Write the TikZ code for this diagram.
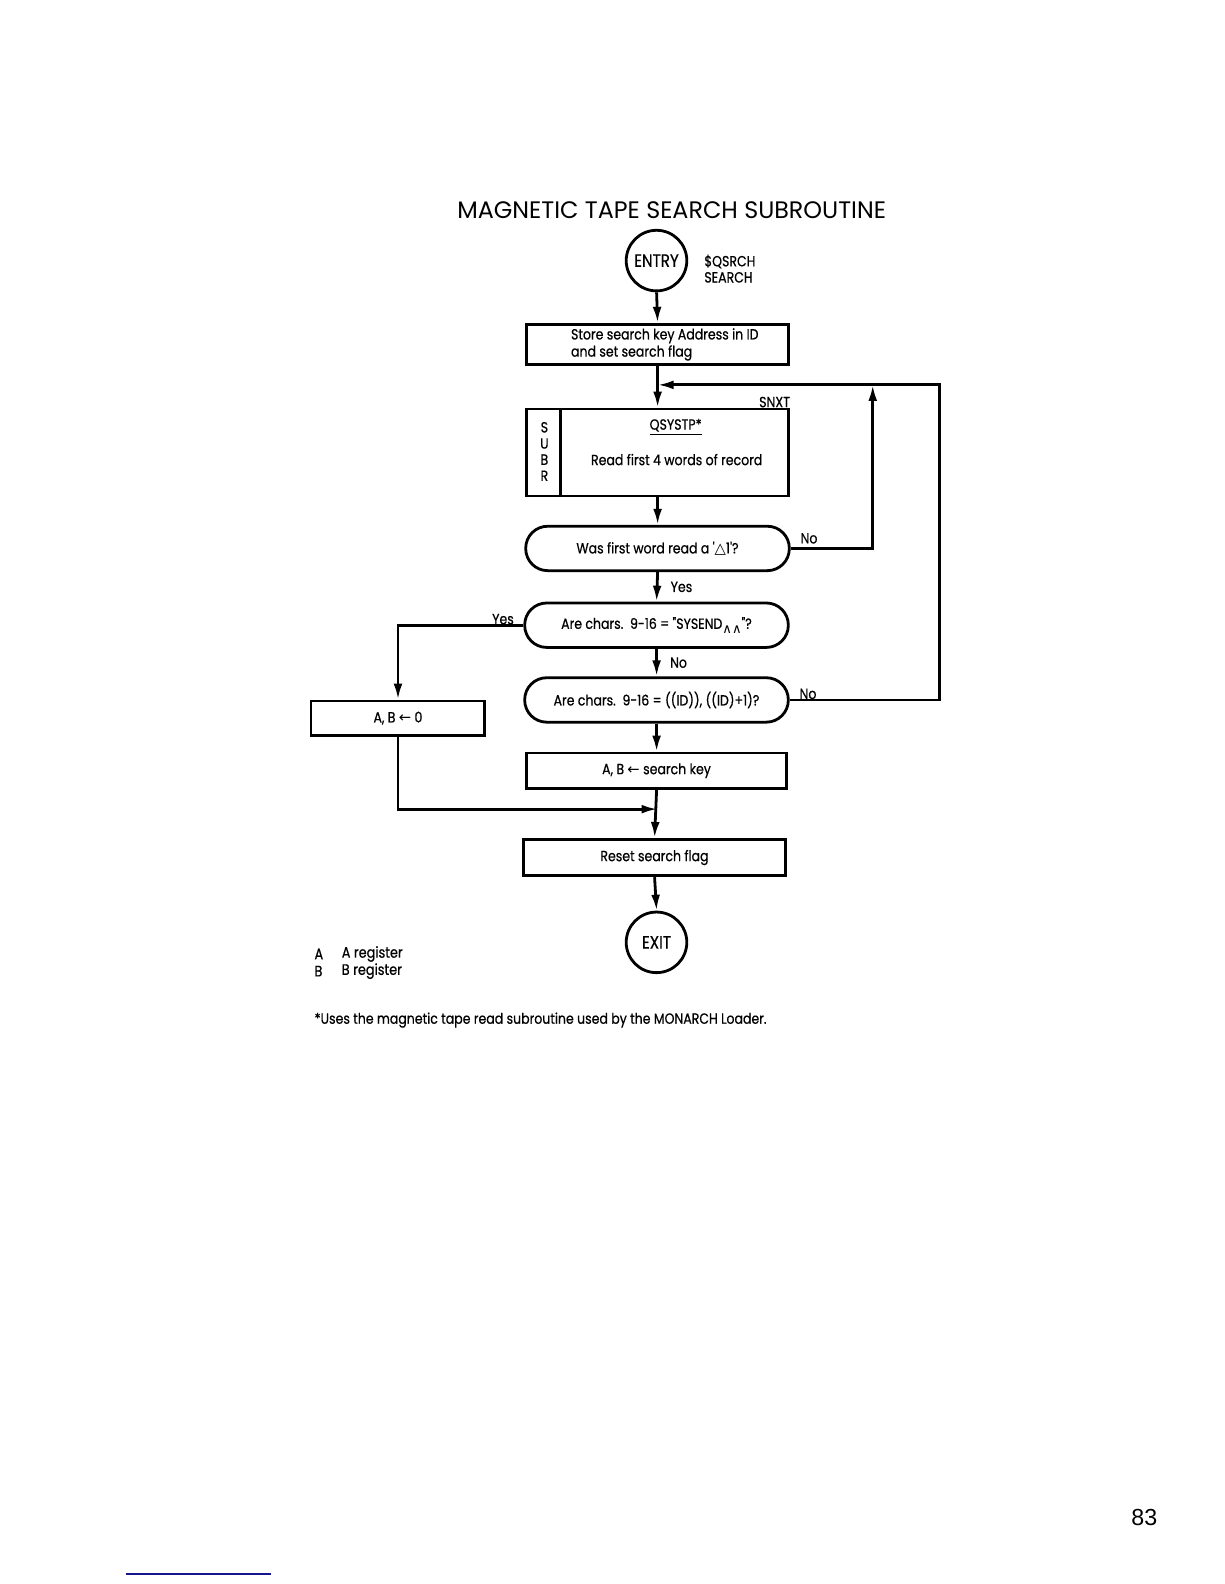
\documentclass[tikz,border=0pt]{standalone}
\usepackage{fontspec}
\setmainfont{Poppins}[FakeStretch=0.85, FakeBold=0.6]
\newfontfamily\titlefont{Poppins}
\newfontfamily\quotefont{Poppins}[FakeStretch=0.85, FakeBold=0.6, Ligatures=TeXOff]
\newfontfamily\symfont{DejaVu Sans}
\newfontfamily\pagefont{Liberation Sans}
\usetikzlibrary{arrows.meta}
\usetikzlibrary{calc}
\definecolor{rulenavy}{RGB}{20,20,140}
\newcommand{\dq}{{\quotefont "}}
\newcommand{\sq}{{\quotefont '}}

\begin{document}
\begin{tikzpicture}[x=0.5pt, y=-0.5pt, scale=1.01,
	every node/.style={font=\fontsize{7.3}{8}\selectfont, transform shape},
	box/.style={draw, line width=1.4pt, minimum width=130pt, minimum height=20pt, inner sep=0pt},
	ask/.style={draw, line width=1.4pt, rounded corners=11pt, minimum width=130.5pt, minimum height=22pt, inner sep=0pt},
	term/.style={draw, circle, line width=1.4pt, minimum size=30pt, inner sep=0pt, font=\fontsize{8.8}{9}\selectfont},
	flow/.style={line width=1.4pt, -{Latex[length=8pt,width=4.4pt]}},
	lbl/.style={inner sep=0pt}]
	\useasboundingbox (0,0) rectangle (1211.9,1568.3);

	\node[lbl, font=\titlefont\fontsize{11.8}{14}\selectfont] (title) at (665,208) {MAGNETIC TAPE SEARCH SUBROUTINE};

	% entry
	\node[term] (entry) at (650,258) {ENTRY};
	\node[lbl, anchor=west, align=left] (entryname) at (697,266) {\$QSRCH\\SEARCH};

	\node[box] (store) at (651,341) {};
	\node[lbl, anchor=west, align=left, font=\fontsize{7.3}{8.5}\selectfont] (storetext) at (565,341) {Store search key Address in ID\\and set search flag};

	% subroutine box
	\node[box, minimum height=43pt] (subr) at (651,448) {};
	\draw[line width=1.4pt] ($(subr.north west)+(35,0)$) -- ($(subr.south west)+(35,0)$);
	\node[lbl, align=center] (subrtag) at (539,447) {S\\U\\B\\R};
	\node[lbl] (qsys) at (669,423) {\underline{QSYSTP*}};
	\node[lbl] (readtext) at (670,455) {Read first 4 words of record};
	\node[lbl, anchor=south east] (snxt) at (subr.north east) {SNXT};

	% decisions
	\node[ask] (firstq) at (651,543) {Was first word read a \sq{\symfont △}1\sq?};
	\node[ask] (sysendq) at (650,619) {Are chars.\ \ 9-16 = \dq SYSEND\raisebox{-2.2pt}{\symfont\fontsize{6.5}{7}\selectfont ∧∧}\dq?};
	\node[ask] (idq) at (650,693) {Are chars.\ \ 9-16 = ((ID)), ((ID)+1)?};

	\node[box, minimum width=86pt, minimum height=17pt] (abzero) at (394,711) {A, B {\symfont ←} 0};
	\node[box, minimum width=129pt, minimum height=17.5pt] (abkey) at (650,763) {A, B {\symfont ←} search key};
	\node[box, minimum width=129.5pt, minimum height=18pt] (reset) at (648,849) {Reset search flag};

	\node[term] (exit) at (650,933) {EXIT};

	% connectors
	\coordinate (jn) at (651,381);
	\coordinate (rise) at (864,381);
	\coordinate (outer) at (930,381);
	\coordinate (merge) at (651,801);

	\draw[flow] (entry.south) -- (store.north);
	\draw[flow] (store.south) -- (subr.north);
	\draw[flow] (subr.south) -- (firstq.north);
	\draw[flow] (firstq.south) -- (sysendq.north) node[lbl, midway, right=6pt] {Yes};
	\draw[flow] (sysendq.south) -- (idq.north) node[lbl, midway, right=6pt] {No};
	\draw[flow] (idq.south) -- (abkey.north);
	\draw[flow] (firstq.east) -| (rise);
	\draw[flow] (idq.east) -| (outer) -- (jn);
	\draw[flow] (sysendq.west) -| (abzero.north);
	\draw[flow] (abzero.south) |- (merge);
	\draw[flow] (abkey.south) -- (reset.north);
	\draw[flow] (reset.south) -- (exit.north);

	\node[lbl] (firstno) at (801,533) {No};
	\node[lbl] (sysyes) at (498,613) {Yes};
	\node[lbl] (idno) at (800,687) {No};

	% legend and note
	\node[lbl, anchor=west, align=left, font=\fontsize{7.5}{8.5}\selectfont] (legkey) at (311,953) {A\\B};
	\node[lbl, anchor=west, align=left, font=\fontsize{7.5}{8.5}\selectfont] (legtext) at (338,953) {A register\\B register};
	\node[lbl, anchor=west] (note) at (311,1010) {*Uses the magnetic tape read subroutine used by the MONARCH Loader.};

	\node[lbl, font=\pagefont\fontsize{11.5}{14}\selectfont] (pageno) at (1133,1502) {83};
	\draw[rulenavy, line width=1pt] (125,1558) -- (268,1558);
\end{tikzpicture}
\end{document}
